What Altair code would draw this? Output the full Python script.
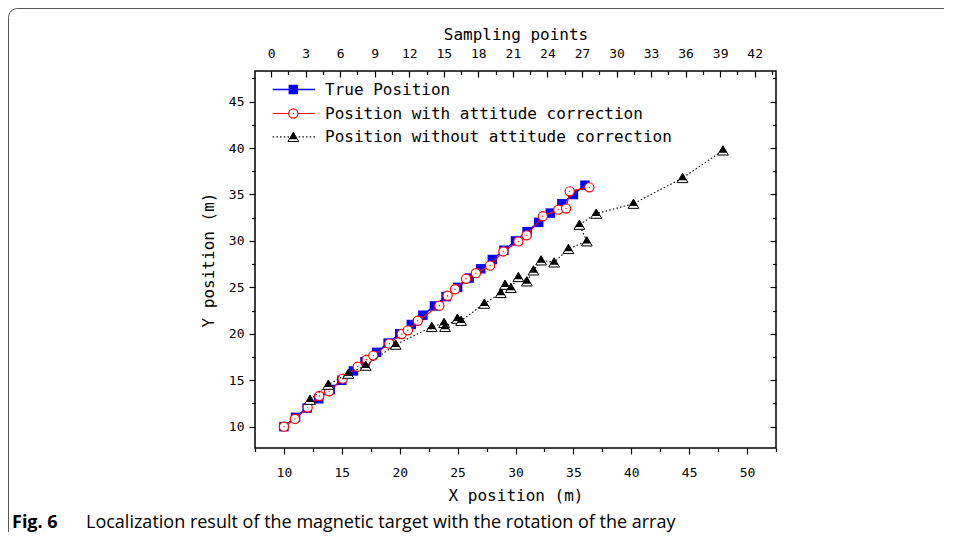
import altair as alt
import pandas as pd

# ---------------- data ----------------
true_x = [10, 11, 12, 13, 14, 15, 16, 17, 18, 19, 20, 21, 22, 23, 24, 25, 26, 27, 28, 29, 30, 31, 32, 33, 34, 35, 36]
true_y = [10, 11, 12, 13, 14, 15, 16, 17, 18, 19, 20, 21, 22, 23, 24, 25, 26, 27, 28, 29, 30, 31, 32, 33, 34, 35, 36]

corr_x = [10.0, 10.95, 12.05, 13.05, 13.9, 15.07, 16.37, 17.15, 17.72, 19.1, 20.17, 20.7, 21.56,
          23.42, 24.13, 24.78, 25.73, 26.58, 27.8, 28.95, 30.25, 30.96, 32.36, 33.7, 34.37, 34.68, 36.38]
corr_y = [10.0, 10.83, 12.05, 13.3, 13.8, 15.17, 16.46, 17.2, 17.65, 18.94, 19.98, 20.37, 21.4,
          23.03, 24.1, 24.8, 25.92, 26.53, 27.34, 28.87, 29.95, 30.6, 32.65, 33.37, 33.48, 35.34, 35.77]

raw_x = [12.25, 13.83, 15.56, 17.06, 19.65, 22.77, 23.83, 23.92, 24.98, 25.3, 27.31, 28.73, 29.1,
         29.6, 30.25, 30.98, 31.55, 32.21, 33.34, 34.57, 36.16, 35.52, 36.97, 40.19, 44.43, 47.92]
raw_y = [12.9, 14.52, 15.71, 16.57, 18.83, 20.74, 21.17, 20.74, 21.63, 21.4, 23.25, 24.4, 25.29,
         24.94, 26.12, 25.65, 26.83, 27.91, 27.69, 29.14, 29.96, 31.75, 32.94, 34.01, 36.78, 39.75]

legend_labels = ["True Position", "Position with attitude correction",
                 "Position without attitude correction"]

x_major = [10, 15, 20, 25, 30, 35, 40, 45, 50]
x_minor = [7.5, 12.5, 17.5, 22.5, 27.5, 32.5, 37.5, 42.5, 47.5, 52.5]
y_major = [10, 15, 20, 25, 30, 35, 40, 45]
y_minor = [12.5, 17.5, 22.5, 27.5, 32.5, 37.5, 42.5, 47.5]
s_major = [0, 3, 6, 9, 12, 15, 18, 21, 24, 27, 30, 33, 36, 39, 42]
s_minor = [1.5, 4.5, 7.5, 10.5, 13.5, 16.5, 19.5, 22.5, 25.5, 28.5, 31.5, 34.5, 37.5, 40.5, 43.5]

caption_bold = "Fig. 6"
caption_text = "Localization result of the magnetic target with the rotation of the array"

# ---------------- setup ----------------
FONT = "DejaVu Sans Mono"
XS = alt.Scale(domain=[7.5, 52.5], nice=False, zero=False)
YS = alt.Scale(domain=[7.7, 48.3], nice=False, zero=False)
SS = alt.Scale(domain=[-1.4, 43.85], nice=False, zero=False)

df_true = pd.DataFrame({"i": range(len(true_x)), "x": true_x, "y": true_y})
df_corr = pd.DataFrame({"i": range(len(corr_x)), "x": corr_x, "y": corr_y})
df_raw = pd.DataFrame({"i": range(len(raw_x)), "x": raw_x, "y": raw_y})
one = pd.DataFrame({"x": [30.0], "y": [30.0], "s": [20.0]})


def xy(ch, **extra):
    return ch.encode(x=alt.X("x:Q", scale=XS, axis=None),
                     y=alt.Y("y:Q", scale=YS, axis=None),
                     order="i:Q", **extra)


blue_line = xy(alt.Chart(df_true).mark_line(color="#0000ff", strokeWidth=1.5))
blue_pts = xy(alt.Chart(df_true).mark_point(shape="square", filled=True, color="#0000ff",
                                            size=90, opacity=1))
red_line = xy(alt.Chart(df_corr).mark_line(color="#ff0000", strokeWidth=1.2))
red_pts = xy(alt.Chart(df_corr).mark_point(shape="circle", filled=True, fill="white",
                                           stroke="#ff0000", strokeWidth=1.2, size=85, opacity=1))
red_dot = xy(alt.Chart(df_corr).mark_point(shape="circle", filled=True, color="#ff0000",
                                           size=2, opacity=1))
black_line = xy(alt.Chart(df_raw).mark_line(color="black", strokeWidth=1.1, strokeDash=[1.5, 2.2]))
black_tri_bg = xy(alt.Chart(df_raw).mark_point(shape="triangle-up", filled=True, fill="white",
                                               stroke="black", strokeWidth=1, size=115, opacity=1))
black_tri = xy(alt.Chart(df_raw).mark_point(shape="triangle-up", filled=True, color="black",
                                            size=66, opacity=1, yOffset=-1.2))


# ---------------- axes (separate layers so minor ticks are possible) ----------------
def x_axis(axis):
    return alt.Chart(one).mark_point(opacity=0).encode(x=alt.X("x:Q", scale=XS, axis=axis))


def y_axis(axis):
    return alt.Chart(one).mark_point(opacity=0).encode(y=alt.Y("y:Q", scale=YS, axis=axis))


def s_axis(axis):
    return alt.Chart(one).mark_point(opacity=0).encode(x=alt.X("s:Q", scale=SS, axis=axis))


bottom_major = x_axis(alt.Axis(orient="bottom", values=x_major, tickSize=6, format="d",
                               labelPadding=12, title="X position (m)", titlePadding=8))
bottom_minor = x_axis(alt.Axis(orient="bottom", values=x_minor, tickSize=3.5, labels=False, title=""))
left_major = y_axis(alt.Axis(orient="left", values=y_major, tickSize=6, format="d",
                             labelPadding=5, title="Y position (m)", titlePadding=12))
left_minor = y_axis(alt.Axis(orient="left", values=y_minor, tickSize=3.5, labels=False, title=""))
right_major = y_axis(alt.Axis(orient="right", values=y_major, tickSize=6, offset=-6,
                              labels=False, title=""))
right_minor = y_axis(alt.Axis(orient="right", values=y_minor, tickSize=3.5, offset=-3.5,
                              labels=False, title=""))
top_major = s_axis(alt.Axis(orient="top", values=s_major, tickSize=6, offset=-6, format="d",
                            labelPadding=11, title="Sampling points", titlePadding=5))
top_minor = s_axis(alt.Axis(orient="top", values=s_minor, tickSize=3.5, offset=-3.5,
                            labels=False, title=""))

# ---------------- legend (drawn inside the plot, top-left) ----------------
LX1, LX2, LXM, LXT = 17.7, 60, 38.3, 70
ROWS = [18.5, 42.5, 65.9]

leg = []
leg.append(alt.Chart(one).mark_rule(color="#0000ff", strokeWidth=1.5).encode(
    x=alt.value(LX1), x2=alt.value(LX2), y=alt.value(ROWS[0])))
leg.append(alt.Chart(one).mark_point(shape="square", filled=True, color="#0000ff", size=90,
                                     opacity=1).encode(x=alt.value(LXM), y=alt.value(ROWS[0])))
leg.append(alt.Chart(one).mark_rule(color="#ff0000", strokeWidth=1.2).encode(
    x=alt.value(LX1), x2=alt.value(LX2), y=alt.value(ROWS[1])))
leg.append(alt.Chart(one).mark_point(shape="circle", filled=True, fill="white", stroke="#ff0000",
                                     strokeWidth=1.2, size=85, opacity=1).encode(
    x=alt.value(LXM), y=alt.value(ROWS[1])))
leg.append(alt.Chart(one).mark_point(shape="circle", filled=True, color="#ff0000", size=2,
                                     opacity=1).encode(x=alt.value(LXM), y=alt.value(ROWS[1])))
leg.append(alt.Chart(one).mark_rule(color="black", strokeWidth=1.1, strokeDash=[1.5, 2.2]).encode(
    x=alt.value(LX1), x2=alt.value(LX2), y=alt.value(ROWS[2])))
leg.append(alt.Chart(one).mark_point(shape="triangle-up", filled=True, fill="white", stroke="black",
                                     strokeWidth=1, size=115, opacity=1).encode(
    x=alt.value(LXM), y=alt.value(ROWS[2])))
leg.append(alt.Chart(one).mark_point(shape="triangle-up", filled=True, color="black", size=66,
                                     opacity=1, yOffset=-1.2).encode(
    x=alt.value(LXM), y=alt.value(ROWS[2])))
for lab, ry in zip(legend_labels, ROWS):
    leg.append(alt.Chart(one).mark_text(align="left", baseline="middle", font=FONT, fontSize=16,
                                        color="black").encode(
        x=alt.value(LXT), y=alt.value(ry), text=alt.value(lab)))

# ---------------- frame + caption ----------------
frame = alt.Chart(one).mark_rect(fill="white", fillOpacity=0, stroke="#555555", strokeWidth=1,
                                 cornerRadius=9).encode(
    x=alt.value(-246.5), x2=alt.value(720), y=alt.value(-62.5), y2=alt.value(472))
cap1 = alt.Chart(one).mark_text(align="left", baseline="middle", font="Open Sans", fontSize=18,
                                fontWeight="bold", color="black").encode(
    x=alt.value(-243), y=alt.value(452), text=alt.value(caption_bold))
cap2 = alt.Chart(one).mark_text(align="left", baseline="middle", font="Open Sans", fontSize=18,
                                color="black").encode(
    x=alt.value(-169), y=alt.value(452), text=alt.value(caption_text))

main = alt.layer(
    frame, cap1, cap2,
    bottom_major, bottom_minor, left_major, left_minor, right_major, right_minor,
    blue_line, blue_pts, red_line, red_pts, red_dot, black_line, black_tri_bg, black_tri,
    *leg,
).resolve_axis(x="independent", y="independent")

top = alt.layer(top_major, top_minor).resolve_axis(x="independent")

chart = alt.layer(main, top).resolve_scale(x="independent").resolve_axis(
    x="independent", y="independent"
).properties(
    width=521, height=377,
    autosize=alt.AutoSizeParams(type="none"),
    padding={"left": 247, "top": 63, "right": 168, "bottom": 84},
).configure_view(
    stroke="black", strokeWidth=1.5
).configure_axis(
    grid=False, domain=False, tickColor="black", tickWidth=1.2,
    labelFont=FONT, labelFontSize=13, labelColor="black",
    titleFont=FONT, titleFontSize=16, titleFontWeight="normal", titleColor="black",
    labelFlush=False, labelOverlap=False,
)

chart.save("out.html", embed_options={"renderer": "svg", "actions": False})
